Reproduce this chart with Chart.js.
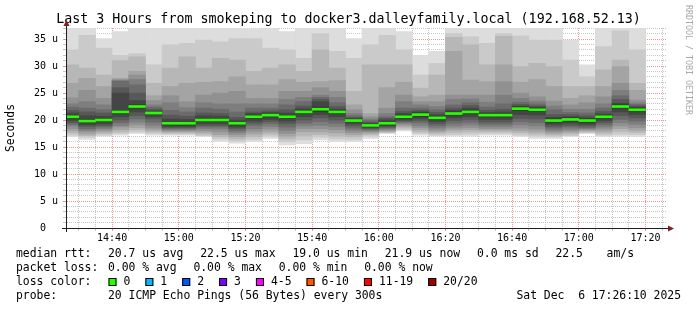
<!DOCTYPE html>
<html>
<head>
<meta charset="utf-8">
<script src="https://cdn.jsdelivr.net/npm/chart.js@4.4.1/dist/chart.umd.min.js"></script>
<style>
  html, body { margin: 0; padding: 0; background: #fff; }
  #wrap { width: 697px; height: 310px; }
</style>
</head>
<body>
<div id="wrap"><canvas id="smoke" width="697" height="310"></canvas></div>
<script>
// graph window
const graphStart = '14:26:10';
const graphEnd = '17:26:10';

// end of each 5 min step (the first one is cut by the graph start)
const stepEnds = ['14:30', '14:35', '14:40', '14:45', '14:50', '14:55', '15:00', '15:05', '15:10', '15:15',
  '15:20', '15:25', '15:30', '15:35', '15:40', '15:45', '15:50', '15:55', '16:00', '16:05',
  '16:10', '16:15', '16:20', '16:25', '16:30', '16:35', '16:40', '16:45', '16:50', '16:55',
  '17:00', '17:05', '17:10', '17:15', '17:20'];

// median rtt per step (us)
const medianRtt = [20.6, 19.8, 20.0, 21.5, 22.5, 21.3, 19.4, 19.4, 20.0, 20.0,
  19.4, 20.6, 20.9, 20.6, 21.5, 22.0, 21.5, 19.9, 19.0, 19.4,
  20.6, 21.0, 20.4, 21.2, 21.5, 20.9, 20.9, 22.1, 21.9, 19.9,
  20.1, 19.9, 20.6, 22.5, 21.9];

// lost pings per step
const lostPings = [0, 0, 0, 0, 0, 0, 0, 0, 0, 0, 0, 0, 0, 0, 0, 0, 0, 0, 0, 0,
  0, 0, 0, 0, 0, 0, 0, 0, 0, 0, 0, 0, 0, 0, 0];

// the 20 pings of every step, sorted (us)
const pings = [
  [16.9, 17.2, 17.6, 18.0, 18.4, 18.9, 19.2, 19.5, 19.9, 20.3, 20.9, 21.3, 21.8, 22.4, 23.0, 24.1, 26.8, 30.2, 33.0, 37.5],
  [16.4, 16.8, 17.1, 17.4, 17.8, 18.1, 18.4, 18.8, 19.1, 19.5, 20.1, 20.8, 21.5, 22.2, 23.4, 25.5, 27.7, 29.6, 35.7, 37.0],
  [17.0, 17.2, 17.5, 17.8, 18.1, 18.4, 18.7, 19.0, 19.3, 19.7, 20.3, 20.7, 21.3, 21.9, 22.8, 24.0, 26.2, 28.3, 33.3, 35.1],
  [17.2, 17.5, 17.8, 18.2, 18.7, 19.0, 19.5, 20.0, 20.6, 21.2, 21.8, 25.0, 26.0, 27.2, 27.3, 27.5, 27.7, 31.0, 32.0, 36.4],
  [17.5, 17.8, 18.2, 18.6, 19.1, 19.6, 20.2, 20.8, 21.5, 22.2, 22.8, 23.6, 25.0, 26.5, 27.5, 28.3, 29.0, 31.7, 32.3, 37.3],
  [17.2, 17.5, 17.8, 18.1, 18.5, 19.0, 19.6, 20.2, 20.6, 21.1, 21.5, 21.7, 22.0, 22.4, 22.8, 23.6, 24.5, 26.8, 30.2, 37.2],
  [17.2, 17.4, 17.6, 17.8, 18.0, 18.2, 18.4, 18.6, 18.8, 19.1, 19.7, 20.2, 20.9, 21.8, 23.2, 24.5, 26.2, 29.6, 33.9, 37.0],
  [17.2, 17.4, 17.6, 17.8, 18.0, 18.2, 18.4, 18.6, 18.8, 19.1, 19.7, 20.1, 20.7, 21.5, 22.3, 23.4, 26.8, 31.7, 34.2, 37.0],
  [16.9, 17.1, 17.4, 17.7, 18.0, 18.4, 18.7, 19.0, 19.3, 19.7, 20.3, 20.8, 21.3, 22.2, 23.2, 24.6, 27.0, 29.6, 34.8, 37.0],
  [16.0, 16.5, 16.9, 17.3, 17.8, 18.3, 18.7, 19.0, 19.3, 19.7, 20.3, 20.7, 21.2, 22.0, 23.0, 25.0, 27.1, 31.4, 34.5, 37.0],
  [15.7, 16.1, 16.5, 16.9, 17.3, 17.7, 18.0, 18.4, 18.7, 19.1, 19.7, 20.0, 20.5, 21.5, 23.0, 25.3, 28.0, 31.1, 35.1, 37.0],
  [16.0, 16.4, 16.9, 17.4, 17.9, 18.4, 19.0, 19.4, 19.8, 20.3, 20.9, 21.2, 21.5, 22.2, 23.0, 24.0, 26.5, 29.0, 35.1, 36.9],
  [16.6, 17.0, 17.4, 17.8, 18.3, 18.8, 19.3, 19.7, 20.1, 20.6, 21.2, 21.4, 21.7, 22.2, 23.0, 24.0, 26.5, 29.6, 33.3, 37.0],
  [15.4, 16.0, 16.5, 17.0, 17.5, 18.1, 18.7, 19.3, 19.8, 20.3, 20.9, 21.3, 21.9, 22.8, 23.8, 25.3, 27.5, 30.2, 33.0, 36.4],
  [15.6, 16.3, 17.0, 17.8, 18.4, 18.9, 19.4, 20.0, 20.6, 21.2, 21.8, 22.1, 22.6, 23.4, 24.2, 25.3, 27.0, 29.0, 31.4, 37.0],
  [16.3, 16.8, 17.3, 17.8, 18.4, 19.0, 19.7, 20.4, 21.0, 21.6, 22.4, 23.4, 23.8, 24.2, 24.6, 26.0, 27.1, 33.0, 36.0, 37.0],
  [16.0, 16.5, 17.0, 17.6, 18.2, 18.8, 19.4, 20.0, 20.6, 21.2, 21.8, 22.0, 22.5, 23.2, 24.2, 25.3, 27.3, 29.6, 32.7, 37.0],
  [16.0, 16.4, 16.9, 17.3, 17.7, 18.1, 18.5, 18.9, 19.3, 19.7, 20.1, 20.3, 20.5, 20.8, 21.2, 21.9, 22.8, 25.3, 31.4, 35.1],
  [16.6, 17.0, 17.3, 17.6, 17.8, 18.0, 18.2, 18.4, 18.6, 18.8, 19.2, 19.4, 19.6, 19.9, 20.2, 20.6, 21.2, 30.2, 33.9, 37.0],
  [17.5, 17.6, 17.8, 17.9, 18.1, 18.3, 18.5, 18.7, 18.9, 19.1, 19.7, 20.0, 20.3, 20.6, 21.2, 22.2, 26.0, 30.2, 35.7, 37.0],
  [18.0, 18.2, 18.5, 18.8, 19.1, 19.4, 19.6, 19.8, 20.0, 20.3, 20.9, 21.2, 21.6, 22.2, 23.4, 24.6, 27.0, 30.2, 33.0, 36.4],
  [17.2, 17.5, 17.8, 18.2, 18.6, 19.0, 19.5, 19.9, 20.3, 20.7, 21.3, 21.5, 21.8, 22.2, 22.8, 23.4, 24.3, 25.9, 28.3, 32.0],
  [17.0, 17.2, 17.5, 17.8, 18.1, 18.5, 18.9, 19.3, 19.7, 20.1, 20.7, 21.0, 21.4, 21.9, 22.5, 23.4, 24.6, 28.3, 30.5, 32.7],
  [17.0, 17.3, 17.7, 18.1, 18.5, 18.9, 19.4, 19.9, 20.4, 20.9, 21.5, 21.8, 22.2, 22.8, 23.8, 24.6, 32.7, 35.3, 36.0, 37.0],
  [17.0, 17.4, 17.8, 18.2, 18.6, 19.1, 19.6, 20.1, 20.6, 21.2, 21.8, 22.2, 22.7, 23.2, 23.9, 24.6, 27.4, 33.9, 35.4, 37.0],
  [17.2, 17.5, 17.8, 18.1, 18.4, 18.8, 19.2, 19.6, 20.1, 20.6, 21.2, 21.4, 21.8, 22.4, 23.3, 24.6, 27.1, 30.2, 34.2, 37.0],
  [17.2, 17.5, 17.8, 18.1, 18.4, 18.8, 19.2, 19.6, 20.1, 20.6, 21.2, 21.5, 22.0, 23.0, 24.6, 27.1, 30.2, 35.5, 36.0, 37.0],
  [16.9, 17.2, 17.6, 18.0, 18.5, 19.1, 19.7, 20.3, 21.0, 21.8, 22.4, 22.6, 22.9, 23.3, 24.0, 25.0, 27.0, 29.9, 35.6, 37.0],
  [16.6, 17.0, 17.4, 17.8, 18.3, 18.9, 19.5, 20.2, 20.9, 21.6, 22.2, 22.4, 22.6, 23.0, 23.5, 24.3, 27.5, 30.5, 34.8, 37.0],
  [16.6, 16.9, 17.2, 17.5, 17.8, 18.1, 18.5, 18.8, 19.2, 19.6, 20.2, 20.5, 21.0, 21.9, 22.6, 23.5, 26.2, 29.9, 34.8, 37.0],
  [16.9, 17.1, 17.4, 17.7, 18.0, 18.3, 18.7, 19.0, 19.4, 19.8, 20.4, 20.6, 21.0, 21.4, 22.0, 22.8, 24.0, 26.2, 31.1, 34.8],
  [17.5, 17.6, 17.8, 18.0, 18.2, 18.4, 18.6, 18.9, 19.2, 19.6, 20.2, 20.4, 20.8, 21.3, 22.0, 23.2, 24.5, 26.2, 28.0, 30.2],
  [16.9, 17.2, 17.5, 17.9, 18.3, 18.7, 19.1, 19.5, 19.9, 20.3, 20.9, 21.1, 21.6, 22.2, 23.0, 24.3, 26.2, 29.3, 33.6, 37.0],
  [17.0, 17.4, 17.9, 18.4, 18.9, 19.5, 20.1, 20.8, 21.5, 22.2, 22.8, 23.1, 23.8, 24.5, 25.5, 26.8, 29.9, 31.1, 36.5, 37.0],
  [16.9, 17.3, 17.7, 18.1, 18.6, 19.2, 19.8, 20.4, 21.0, 21.6, 22.2, 22.4, 22.6, 22.9, 23.2, 23.7, 25.5, 26.8, 33.0, 37.0]
];

// loss legend
const lossLabels = ['0', '1', '2', '3', '4-5', '6-10', '11-19', '20/20'];
const lossColors = ['#26ff00', '#00b8ff', '#0059ff', '#7e00ff', '#ff00ff', '#ff5500', '#ff0000', '#a10000'];

// legend texts
const rttStats = ['20.7 us avg', '22.5 us max', '19.0 us min', '21.9 us now', '0.0 ms sd', '22.5', 'am/s'];
const lossStats = ['0.00 % avg', '0.00 % max', '0.00 % min', '0.00 % now'];
const probeText = '20 ICMP Echo Pings (56 Bytes) every 300s';
const stampText = 'Sat Dec  6 17:26:10 2025';

const MONO = '"DejaVu Sans Mono", "Liberation Mono", monospace';

function toMin(s) {
  const p = s.split(':').map(Number);
  return p[0] * 60 + p[1] + (p[2] || 0) / 60;
}
function fmtMin(v) {
  const h = Math.floor(v / 60), m = Math.round(v % 60);
  return String(h).padStart(2, '0') + ':' + String(m).padStart(2, '0');
}

const xMin = toMin(graphStart);
const xMax = toMin(graphEnd);
const centers = stepEnds.map(t => toMin(t) - 2.5);

// smoke bands, outer (light) to inner (dark), like smokeping's smokecol
const half = 10;
const datasets = [];
for (let b = 1; b <= half; b++) {
  const c = Math.floor(190 / half * (half - b)) + 50;
  datasets.push({
    label: 'smoke' + b,
    data: pings.map((row, k) => ({ x: centers[k], y: [row[b - 1], row[20 - b]] })),
    backgroundColor: `rgb(${c},${c},${c})`,
    order: 20 - b
  });
}
// median line, coloured by loss
datasets.push({
  label: 'median',
  data: medianRtt.map((m, k) => ({ x: centers[k], y: [m - 0.19, m + 0.19] })),
  backgroundColor: lostPings.map(l => lossColors[l > 0 ? 1 : 0]),
  order: 0
});
datasets.forEach(d => { d.barPercentage = 1; d.categoryPercentage = 1; d.borderWidth = 0; d.clip = 0; });

const minorGrid = 'rgba(143,143,143,0.5)';
const majorGrid = 'rgba(222,79,79,0.6)';

const xTicks = [];
for (let v = Math.ceil(xMin / 5) * 5; v <= xMax; v += 5) xTicks.push(v);
const yTicks = [];
for (let v = 0; v <= 37; v++) yTicks.push(v);

const rrdDecor = {
  id: 'rrdDecor',
  afterDraw(chart) {
    const { ctx, chartArea: a } = chart;
    ctx.save();
    // axis stubs
    ctx.strokeStyle = '#1f1f1f';
    ctx.lineWidth = 1;
    ctx.beginPath();
    ctx.moveTo(a.left + 0.5, a.bottom + 4); ctx.lineTo(a.left + 0.5, a.top - 2);
    ctx.moveTo(a.left - 4, a.bottom + 0.5); ctx.lineTo(a.right + 2, a.bottom + 0.5);
    ctx.stroke();
    // arrows
    ctx.fillStyle = '#801f1f';
    ctx.beginPath();
    ctx.moveTo(a.left + 0.5, a.top - 8);
    ctx.lineTo(a.left - 2.5, a.top - 2);
    ctx.lineTo(a.left + 3.5, a.top - 2);
    ctx.closePath(); ctx.fill();
    ctx.beginPath();
    ctx.moveTo(a.right + 8, a.bottom + 0.5);
    ctx.lineTo(a.right + 2, a.bottom - 2.5);
    ctx.lineTo(a.right + 2, a.bottom + 3.5);
    ctx.closePath(); ctx.fill();

    // watermark
    ctx.save();
    ctx.translate(688, 5);
    ctx.rotate(Math.PI / 2);
    ctx.font = '8.3px ' + MONO;
    ctx.fillStyle = '#a8a8a8';
    ctx.textBaseline = 'middle';
    ctx.textAlign = 'left';
    ctx.fillText('RRDTOOL / TOBI OETIKER', 0, 0);
    ctx.restore();

    // legend block
    ctx.font = '11.4px ' + MONO;
    ctx.fillStyle = '#000';
    ctx.textBaseline = 'middle';
    ctx.textAlign = 'left';
    const rows = [254.5, 268.5, 282.5, 296.5];
    const gap = 16.8;
    ctx.fillText('median rtt:', 16, rows[0]);
    let tx = 108;
    rttStats.forEach((s, i) => {
      ctx.fillText(s, tx, rows[0]);
      tx += ctx.measureText(s).width + gap + (i === 5 ? 6.9 : 0);
    });
    ctx.fillText('packet loss:', 16, rows[1]);
    tx = 108;
    lossStats.forEach(s => {
      ctx.fillText(s, tx, rows[1]);
      tx += ctx.measureText(s).width + gap;
    });
    ctx.fillText('loss color:', 16, rows[2]);
    let bx = 108.5;
    lossLabels.forEach((lab, i) => {
      ctx.fillStyle = lossColors[i];
      ctx.fillRect(bx, rows[2] - 4.5, 8, 8);
      ctx.strokeStyle = '#000';
      ctx.strokeRect(bx + 0.5, rows[2] - 4, 7, 7);
      ctx.fillStyle = '#000';
      ctx.fillText(lab, bx + 15, rows[2]);
      bx += 30 + ctx.measureText(lab).width;
    });
    ctx.fillText('probe:', 16, rows[3]);
    ctx.fillText(probeText, 108, rows[3]);
    ctx.textAlign = 'right';
    ctx.fillText(stampText, 681, rows[3]);
    ctx.restore();
  }
};

new Chart(document.getElementById('smoke'), {
  type: 'bar',
  data: { datasets },
  options: {
    responsive: false,
    animation: false,
    devicePixelRatio: 1,
    layout: { padding: 0 },
    plugins: {
      legend: { display: false },
      tooltip: { enabled: false },
      title: {
        display: true,
        text: 'Last 3 Hours from smokeping to docker3.dalleyfamily.local (192.168.52.13)',
        color: '#000',
        font: { family: MONO, size: 13.3, weight: 'normal' },
        padding: { top: 12, bottom: 0.04 }
      }
    },
    scales: {
      x: {
        type: 'linear',
        min: xMin,
        max: xMax,
        stacked: true,
        offset: false,
        z: 1,
        afterBuildTicks: s => { s.ticks = xTicks.map(v => ({ value: v })); },
        afterFit: s => { s.height = 82; },
        ticks: {
          autoSkip: false,
          maxRotation: 0,
          padding: 1,
          color: '#000',
          font: { family: MONO, size: 10 },
          callback: v => (v % 20 === 0 ? fmtMin(v) : '')
        },
        grid: {
          offset: false,
          color: c => (c.tick && c.tick.value % 20 === 0 ? majorGrid : minorGrid),
          tickColor: c => (c.tick && c.tick.value % 20 === 0 ? majorGrid : minorGrid),
          lineWidth: 1,
          tickLength: 3
        },
        border: { color: '#1f1f1f', width: 1, dash: [1, 1] }
      },
      y: {
        min: 0,
        max: 37.04,
        stacked: false,
        z: 1,
        afterBuildTicks: s => { s.ticks = yTicks.map(v => ({ value: v })); },
        afterFit: s => { s.width = 66; },
        ticks: {
          autoSkip: false,
          padding: 5,
          color: '#000',
          font: { family: MONO, size: 10 },
          callback: v => (v % 5 === 0 ? (v === 0 ? '0  ' : v + ' u') : '')
        },
        grid: {
          offset: false,
          color: c => (c.tick && c.tick.value % 5 === 0 ? majorGrid : minorGrid),
          tickColor: c => (c.tick && c.tick.value % 5 === 0 ? majorGrid : minorGrid),
          lineWidth: 1,
          tickLength: 3
        },
        border: { color: '#1f1f1f', width: 1, dash: [1, 1] },
        title: {
          display: true,
          text: 'Seconds',
          color: '#000',
          font: { family: MONO, size: 11.4 },
          padding: { top: 4, bottom: 0 }
        }
      },
      // empty right margin so the title stays centred on the whole image
      margin: {
        type: 'linear',
        position: 'right',
        ticks: { display: false },
        grid: { display: false, drawTicks: false },
        border: { display: false },
        afterFit: s => { s.width = 31; }
      }
    }
  },
  plugins: [rrdDecor]
});
</script>
</body>
</html>
